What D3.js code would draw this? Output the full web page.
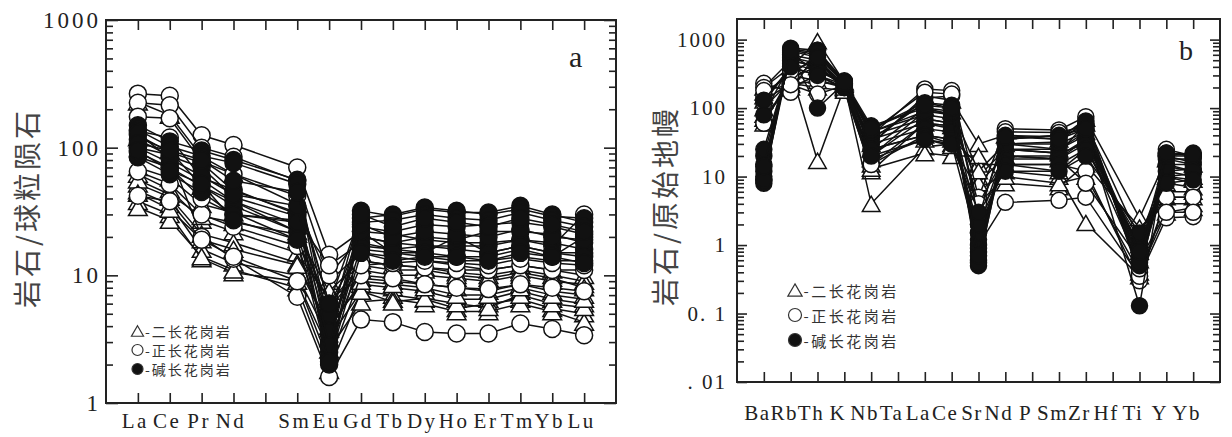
<!DOCTYPE html>
<html>
<head>
<meta charset="utf-8">
<script src="https://cdnjs.cloudflare.com/ajax/libs/d3/7.8.5/d3.min.js"></script>
<style>
  body { margin: 0; background: #fff; }
</style>
</head>
<body>
<div id="chartContainer"></div>
<script>
// a: chondrite normalised REE (Pm left empty)
var reeLabels = ["La","Ce","Pr","Nd","","Sm","Eu","Gd","Tb","Dy","Ho","Er","Tm","Yb","Lu"];
// 二长花岗岩
var reeMonzo = [
  [228,180,85,62,null,36,9,15,14,13,12,11,12,11,10],
  [70,58,36,31,null,19,5.5,11,10,10,9.5,9,10,9,8.5],
  [62,47,27,22,null,15,6.5,9.5,9,8.5,8,7.5,8.5,7.5,7],
  [52,41,21,18,null,12.5,4,8.5,8,7.5,6.5,6.5,7.5,6.5,6],
  [46,36,16,12.5,null,10,3.2,7.5,7,6.5,5.5,6,6.5,5.5,5],
  [38,30,13.5,10.5,null,9,2.6,6.2,6.5,6,5.2,5.2,6,5.2,4.3],
  [34,27,14,11,null,8,1.8,7.5,6.2,6.6,6,5.6,7,6,5.6],
  [56,43,29,26,null,21,7.5,13,12,11.5,10.5,10,11,10,9],
  [44,33,19,16,null,12,3.8,9,8.5,8,7,7,8,7,6.5],
  [120,95,50,38,null,22,6,12,11,11,10,9.5,10.5,9.5,8]
];
// 正长花岗岩
var reeSyeno = [
  [265,255,125,105,null,70,14.5,22,21,19,18,18,19,17,30],
  [225,215,100,85,null,55,10,20,18,17,16,15,17,15,15],
  [175,170,78,62,null,42,6,16,15,14,13,13,14,13,13],
  [135,120,58,47,null,30,4.2,13,12,11.5,11,11,12,11,11],
  [100,88,20,13.5,null,6.8,1.6,4.5,4.3,3.6,3.5,3.5,4.2,3.8,3.4],
  [42,38,19,14,null,9,2.1,10,9.5,8.5,8,7.8,8.5,8,7.5],
  [65,52,30,24,null,17,3,12,12.5,13,12.5,12,13.5,12.5,12],
  [85,70,40,30,null,27,12,18,16,15,14,14,16,14,20]
];
// 碱长花岗岩
var reeAlkali = [
  [150,112,95,80,null,56,4,32,29,33,31,31,35,30,26],
  [138,102,86,76,null,52,3,28,30,34,32,30,33,29,28],
  [126,92,76,46,null,31,2.2,26,27,30,28,27,31,27,24],
  [116,86,70,41,null,29,2,24,22,25,24,25,26,24,21],
  [100,76,56,38,null,25,3.6,20,18,20,19,22,22,21,18],
  [92,70,50,35,null,22,2.5,17,16,17,17,17,19,18,16],
  [84,62,45,30,null,26,5,22,15,15,20,15,17,15,14],
  [130,82,60,43,null,35,2.8,25,20,22,21,20,23,20,19],
  [108,95,80,55,null,45,6,30,24,28,26,24,28,25,22],
  [95,66,52,27,null,19,2.1,15,13,14,14,13,15,14,12.5]
];

// b: primitive mantle normalised spider (Ta, P, Hf not analysed)
var spiderLabels = ["Ba","Rb","Th","K","Nb","Ta","La","Ce","Sr","Nd","P","Sm","Zr","Hf","Ti","Y","Yb"];
var spiderMonzo = [
  [150,350,17,200,12,null,60,55,10,25,null,22,60,null,1.2,10,9],
  [100,250,500,220,4,null,27,30,6,12,null,10,2.1,null,0.35,5,5],
  [200,400,950,240,30,null,150,130,30,40,null,35,70,null,2.5,18,15],
  [80,200,300,190,15,null,40,35,15,15,null,12,25,null,1.0,6,6],
  [60,280,400,210,20,null,70,60,8,20,null,18,35,null,0.8,8,7],
  [130,230,200,180,13,null,22,20,20,8,null,7,15,null,1.8,4,4],
  [170,300,600,230,25,null,100,90,12,30,null,25,45,null,0.6,12,10],
  [70,220,250,200,18,null,35,28,4,10,null,8,10,null,0.4,3,3.5]
];
var spiderSyeno = [
  [230,170,700,230,40,null,190,180,5,50,null,48,75,null,0.35,25,20],
  [200,500,400,220,30,null,140,150,3,35,null,40,60,null,0.4,15,12],
  [120,400,300,200,20,null,90,80,2,25,null,22,30,null,0.5,10,8],
  [60,300,250,210,15,null,60,50,1.5,15,null,15,12,null,0.3,5,5],
  [9,600,350,230,25,null,40,30,1,4.2,null,4.5,5,null,0.35,2.5,2.6],
  [150,350,500,200,35,null,120,100,4,20,null,18,8,null,0.6,3,3],
  [180,220,160,215,45,null,170,160,2.5,45,null,44,55,null,0.45,20,16]
];
var spiderAlkali = [
  [8,750,700,250,55,null,100,80,0.5,35,null,40,50,null,0.13,22,20],
  [10,700,600,240,50,null,120,110,0.6,40,null,38,55,null,0.5,20,22],
  [12,650,100,230,45,null,80,70,0.8,30,null,30,45,null,0.6,18,18],
  [15,600,500,220,40,null,70,60,0.9,25,null,25,40,null,0.7,15,15],
  [20,550,450,210,35,null,60,55,1.2,20,null,20,35,null,0.9,12,13],
  [25,500,400,200,30,null,50,45,1.5,18,null,18,30,null,1.0,10,11],
  [80,450,350,230,25,null,40,35,2,15,null,15,25,null,1.2,14,12],
  [130,400,300,220,20,null,35,30,3,12,null,12,20,null,1.5,8,9],
  [9,720,650,245,45,null,90,85,0.55,30,null,32,65,null,0.55,20,20],
  [14,680,550,235,50,null,110,100,0.7,38,null,35,50,null,0.8,22,21]
];

var legendNames = ["-二长花岗岩", "-正长花岗岩", "-碱长花岗岩"];
var yTicksA = [1, 10, 100, 1000];
var yTickLabelsA = ["1", "10", "100", "1000"];
var yTicksB = [0.01, 0.1, 1, 10, 100, 1000];
var yTickLabelsB = [". 01", "0. 1", "1", "10", "100", "1000"];

var serif = "'Liberation Serif','DejaVu Serif',serif";
var cjk = "'Noto Sans CJK SC','Noto Sans',sans-serif";

var svg = d3.select("#chartContainer").append("svg")
  .attr("width", 1232).attr("height", 437)
  .style("background", "#fff");

function triPath(w, h) {
  return "M0," + (-h / 2) + "L" + (w / 2) + "," + (h / 2) + "L" + (-w / 2) + "," + (h / 2) + "Z";
}

function minorValues(lo, hi) {
  var out = [];
  for (var d = lo; d < hi; d *= 10) {
    for (var k = 2; k <= 9; k++) if (d * k < hi) out.push(d * k);
  }
  return out;
}

function drawPanel(cfg) {
  var g = svg.append("g");
  var n = cfg.labels.length;
  var x = d3.scaleLinear().domain([0, n + 1]).range([cfg.left, cfg.right]);
  var y = d3.scaleLog().domain(cfg.yDomain).range([cfg.bottom, cfg.top]);
  var pos = d3.range(1, n + 1);
  var minors = minorValues(cfg.yDomain[0], cfg.yDomain[1]);

  // ticks, all pointing inward
  function clean(sel) { sel.select(".domain").remove(); sel.selectAll("line").attr("stroke", "#222").attr("stroke-width", 1.6); }
  g.append("g").attr("transform", "translate(" + cfg.left + ",0)")
    .call(d3.axisLeft(y).tickValues(minors).tickSizeInner(-7).tickSizeOuter(0).tickFormat("")).call(clean);
  g.append("g").attr("transform", "translate(" + cfg.right + ",0)")
    .call(d3.axisRight(y).tickValues(minors).tickSizeInner(-7).tickSizeOuter(0).tickFormat("")).call(clean);
  g.append("g").attr("transform", "translate(" + cfg.right + ",0)")
    .call(d3.axisRight(y).tickValues(cfg.yTicks).tickSizeInner(-cfg.majorLen).tickSizeOuter(0).tickFormat("")).call(clean);
  var yl = g.append("g").attr("transform", "translate(" + cfg.left + ",0)")
    .call(d3.axisLeft(y).tickValues(cfg.yTicks).tickSizeInner(-cfg.majorLen).tickSizeOuter(0)
      .tickPadding(cfg.yPad).tickFormat(function (d, i) { return cfg.yTickLabels[i]; }))
    .call(clean);
  yl.selectAll("text").attr("font-family", serif).attr("font-size", cfg.yFont)
    .attr("letter-spacing", cfg.ySpacing).attr("fill", "#222");

  g.append("g").attr("transform", "translate(0," + cfg.top + ")")
    .call(d3.axisTop(x).tickValues(pos).tickSizeInner(-10).tickSizeOuter(0).tickFormat("")).call(clean);
  var xl = g.append("g").attr("transform", "translate(0," + cfg.bottom + ")")
    .call(d3.axisBottom(x).tickValues(pos).tickSizeInner(-10).tickSizeOuter(0)
      .tickPadding(cfg.xPad).tickFormat(function (d) { return cfg.labels[d - 1]; }))
    .call(clean);
  xl.selectAll("text").attr("font-family", serif).attr("font-size", cfg.xFont)
    .attr("letter-spacing", cfg.xSpacing).attr("dx", cfg.xDx).attr("fill", "#222");

  // frame
  g.append("rect").attr("x", cfg.left).attr("y", cfg.top)
    .attr("width", cfg.right - cfg.left).attr("height", cfg.bottom - cfg.top)
    .attr("fill", "none").attr("stroke", "#222").attr("stroke-width", 2);

  // series
  var line = d3.line().x(function (p) { return x(p.i + 1); }).y(function (p) { return y(p.v); });
  var groups = [
    { rows: cfg.monzo, kind: "tri" },
    { rows: cfg.syeno, kind: "open" },
    { rows: cfg.alkali, kind: "fill" }
  ];
  var r = cfg.r;
  groups.forEach(function (grp) {
    grp.rows.forEach(function (row) {
      var pts = row.map(function (v, i) { return { i: i, v: v }; }).filter(function (p) { return p.v != null; });
      var s = g.append("g");
      s.append("path").attr("d", line(pts)).attr("fill", "none")
        .attr("stroke", "#111").attr("stroke-width", 1.5);
      if (grp.kind === "tri") {
        s.selectAll("path.m").data(pts).enter().append("path").attr("class", "m")
          .attr("d", triPath(2.2 * r, 1.9 * r))
          .attr("transform", function (p) { return "translate(" + x(p.i + 1) + "," + y(p.v) + ")"; })
          .attr("fill", "#fff").attr("stroke", "#111").attr("stroke-width", 1.5);
      } else {
        s.selectAll("circle").data(pts).enter().append("circle")
          .attr("cx", function (p) { return x(p.i + 1); })
          .attr("cy", function (p) { return y(p.v); })
          .attr("r", r)
          .attr("fill", grp.kind === "fill" ? "#111" : "#fff")
          .attr("stroke", "#111").attr("stroke-width", 1.5);
      }
    });
  });

  // panel letter
  g.append("text").attr("x", cfg.tagX).attr("y", cfg.tagY).attr("font-family", serif)
    .attr("font-size", cfg.tagFont).attr("fill", "#222").text(cfg.tag);

  // y title
  g.append("text").attr("transform", "translate(" + cfg.titleX + "," + cfg.titleY + ") rotate(-90)")
    .attr("text-anchor", "middle").attr("dominant-baseline", "central")
    .attr("font-family", cjk).attr("font-size", cfg.titleFont).attr("letter-spacing", cfg.titleSpacing)
    .attr("fill", "#444").text(cfg.title);

  // legend
  var lg = g.append("g");
  var kinds = ["tri", "open", "fill"];
  kinds.forEach(function (k, i) {
    var cy = cfg.legY + i * cfg.legStep;
    if (k === "tri") {
      lg.append("path").attr("d", triPath(cfg.legR * 2.2, cfg.legR * 1.9))
        .attr("transform", "translate(" + cfg.legX + "," + cy + ")")
        .attr("fill", "#fff").attr("stroke", "#333").attr("stroke-width", 1.2);
    } else {
      lg.append("circle").attr("cx", cfg.legX).attr("cy", cy).attr("r", cfg.legR)
        .attr("fill", k === "fill" ? "#111" : "#fff").attr("stroke", "#333").attr("stroke-width", 1.2);
    }
    lg.append("text").attr("x", cfg.legX + cfg.legR + 2).attr("y", cy)
      .attr("dominant-baseline", "central").attr("font-family", cjk)
      .attr("font-size", cfg.legFont).attr("letter-spacing", cfg.legSpacing)
      .attr("fill", "#333").text(legendNames[i]);
  });
}

drawPanel({
  labels: reeLabels, monzo: reeMonzo, syeno: reeSyeno, alkali: reeAlkali,
  left: 106, right: 616, top: 20, bottom: 403, yDomain: [1, 1000],
  yTicks: yTicksA, yTickLabels: yTickLabelsA, majorLen: 12,
  yPad: 5, yFont: 23, ySpacing: 3, xPad: 10, xFont: 21, xSpacing: 2.5, xDx: -3,
  r: 8.5, tag: "a", tagX: 569, tagY: 67, tagFont: 30,
  title: "岩石/球粒陨石", titleX: 26, titleY: 208, titleFont: 28, titleSpacing: 3,
  legX: 137.5, legY: 331, legStep: 19, legR: 5.5, legFont: 14, legSpacing: 2
});

drawPanel({
  labels: spiderLabels, monzo: spiderMonzo, syeno: spiderSyeno, alkali: spiderAlkali,
  left: 737, right: 1220, top: 19, bottom: 382, yDomain: [0.01, 2000],
  yTicks: yTicksB, yTickLabels: yTickLabelsB, majorLen: 10,
  yPad: 10, yFont: 21, ySpacing: 2, xPad: 23, xFont: 21, xSpacing: 1.5, xDx: -7,
  r: 8, tag: "b", tagX: 1179, tagY: 60, tagFont: 28,
  title: "岩石/原始地幔", titleX: 664, titleY: 206, titleFont: 28, titleSpacing: 3,
  legX: 795, legY: 290, legStep: 25, legR: 6.5, legFont: 15, legSpacing: 2.5
});
</script>
</body>
</html>
